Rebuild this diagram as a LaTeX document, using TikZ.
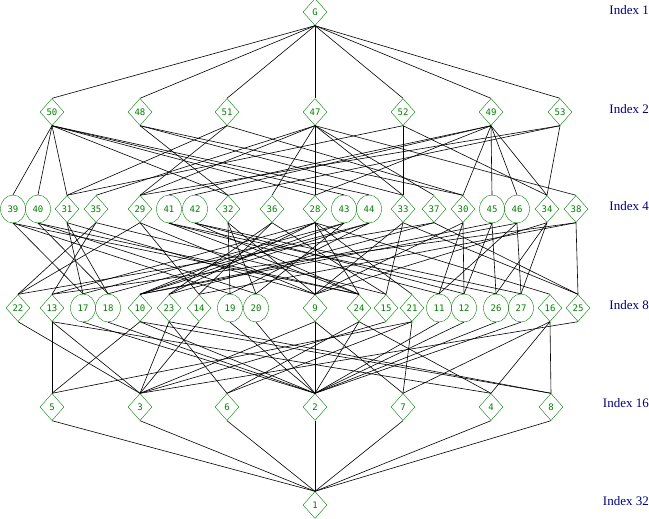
\documentclass[tikz,border=0pt]{standalone}
\usepackage{fontspec}
\newfontfamily\numfont{DejaVu Sans Mono}
\newfontfamily\idxfont{Liberation Serif}
\usetikzlibrary{shapes.geometric}
\definecolor{ngreen}{RGB}{0,128,0}
\definecolor{navy}{RGB}{0,0,128}
\tikzset{
  dnode/.style={diamond,draw=ngreen,text=ngreen,inner sep=0pt,minimum width=24pt,minimum height=27pt,font=\numfont\fontsize{9}{9}\selectfont},
  cnode/.style={ellipse,draw=ngreen,text=ngreen,inner sep=0pt,minimum width=25pt,minimum height=28pt,font=\numfont\fontsize{9}{9}\selectfont},
  idx/.style={anchor=east,text=navy,font=\idxfont\fontsize{13}{13}\selectfont,inner sep=0pt},
  edge/.style={draw=black,line width=0.6pt}
}
\begin{document}
\begin{tikzpicture}[x=1pt,y=-1pt]
\useasboundingbox (0,0) rectangle (649,519);
% index 1
\node[dnode] (G) at (315,12) {G};
% index 2
\foreach \n/\x in {50/52,48/140,51/227,47/315,52/403,49/491,53/560}
  \node[dnode] (n\n) at (\x,112) {\n};
% index 4
\foreach \n/\x in {31/67,35/96,29/140,32/228,36/272,28/315,33/403,37/434,30/463,34/547,38/576}
  \node[dnode] (n\n) at (\x,209) {\n};
\foreach \n/\x in {39/13,40/38,41/169,42/195,43/344,44/369,45/492,46/517}
  \node[cnode] (n\n) at (\x,209) {\n};
% index 8
\foreach \n/\x in {22/18,13/52,10/140,23/169,14/199,9/315,24/359,15/386,21/412,16/550,25/578}
  \node[dnode] (n\n) at (\x,308) {\n};
\foreach \n/\x in {17/83,18/108,19/230,20/256,11/439,12/464,26/496,27/521}
  \node[cnode] (n\n) at (\x,308) {\n};
% index 16
\foreach \n/\x in {5/52,3/140,6/227,2/315,7/403,4/491,8/551}
  \node[dnode] (n\n) at (\x,407) {\n};
% index 32
\node[dnode] (n1) at (315,505) {1};
% labels
\node[idx] (i1) at (649,10) {Index 1};
\node[idx] (i2) at (649,109) {Index 2};
\node[idx] (i4) at (649,206) {Index 4};
\node[idx] (i8) at (649,305) {Index 8};
\node[idx] (i16) at (649,403) {Index 16};
\node[idx] (i32) at (649,501) {Index 32};
% edges: G to index 2
\foreach \b in {50,48,51,47,52,49,53} \draw[edge] (G.south) -- (n\b.north);
% index 2 to index 4
\foreach \a/\b in {47/28,47/29,47/33,47/35,47/36,47/37,47/38,
                   50/28,50/31,50/32,50/39,50/40,50/43,50/44,
                   49/28,49/30,49/34,49/41,49/42,49/45,49/46,
                   52/33,52/31,52/34, 48/33,48/32,48/30,
                   51/31,51/29,51/30, 53/34,53/29,53/32}
  \draw[edge] (n\a.south) -- (n\b.north);
% index 4 to index 8
\foreach \a/\b in {28/9,28/13,28/23,28/10,28/24,28/21,28/16,
                   33/15,33/25,33/9, 31/17,31/18,31/9, 34/26,34/27,34/9,
                   29/22,29/14,29/9, 32/19,32/20,32/9, 30/11,30/12,30/9,
                   35/15,35/22,35/13, 36/15,36/14,36/23,
                   37/25,37/22,37/23, 38/25,38/14,38/13,
                   39/17,39/19,39/24, 40/18,40/20,40/24,
                   43/17,43/20,43/10, 44/18,44/19,44/10,
                   41/26,41/11,41/24, 42/27,42/12,42/24,
                   45/26,45/12,45/10, 46/27,46/11,46/10}
  \draw[edge] (n\a.south) -- (n\b.north);
% index 8 to index 16
\foreach \a/\b in {22/3,14/3,15/3,25/3,
                   13/3,13/5,13/4, 10/2,10/5,10/8, 23/3,23/6,23/8,
                   9/3,9/2,9/7, 24/2,24/6,24/4, 21/7,21/5,21/6, 16/7,16/4,16/8,
                   17/2,18/2,19/2,20/2,11/2,12/2,26/2,27/2}
  \draw[edge] (n\a.south) -- (n\b.north);
% index 16 to index 32
\foreach \a in {5,3,6,2,7,4,8} \draw[edge] (n\a.south) -- (n1.north);
\end{tikzpicture}
\end{document}
